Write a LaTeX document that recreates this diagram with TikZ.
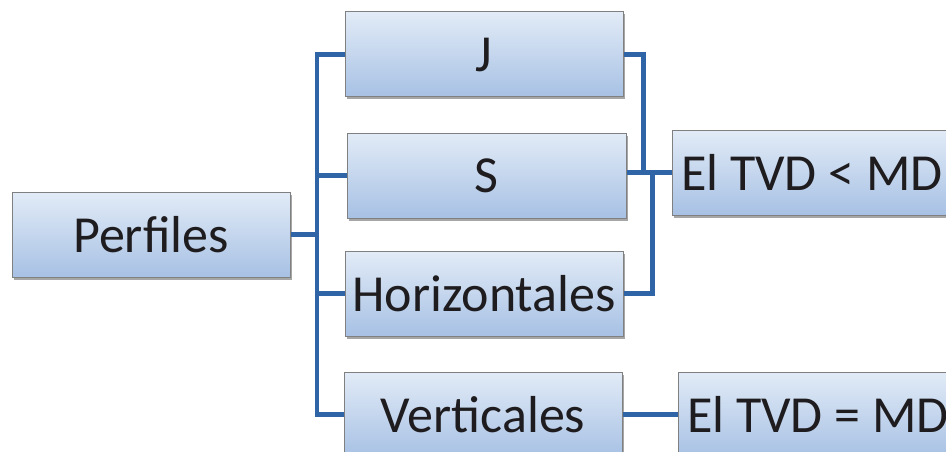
\documentclass[tikz,border=0pt]{standalone}
\usepackage{fontspec}
\setmainfont{Carlito}
\usetikzlibrary{shadows}
\definecolor{topc}{RGB}{226,235,247}
\definecolor{botc}{RGB}{167,193,228}
\definecolor{edgec}{RGB}{128,128,128}
\definecolor{linec}{RGB}{47,100,166}
\definecolor{txtc}{RGB}{30,28,30}
\tikzset{
  boxn/.style={draw=edgec, line width=1pt, top color=topc, bottom color=botc,
    minimum height=85pt, inner sep=0pt, text=txtc,
    font=\fontsize{52}{60}\selectfont,
    drop shadow={shadow xshift=2pt, shadow yshift=-2.5pt, fill=black, opacity=0.35}},
  conn/.style={draw=linec, line width=4.5pt}
}
\begin{document}
\begin{tikzpicture}[x=1pt,y=-1pt]
\useasboundingbox (0,0) rectangle (946,452);
\node[boxn, minimum width=278pt] (P) at (151,234.5) {Perfiles};
\node[boxn, minimum width=278pt] (J) at (484,54.5) {J};
\node[boxn, minimum width=279pt] (S) at (486.5,175.5) {S};
\node[boxn, minimum width=278pt] (H) at (484,293.5) {Horizontales};
\node[boxn, minimum width=278pt] (V) at (483,414.5) {Verticales};
\node[boxn, minimum width=280pt] (T1) at (812,172.5) {El TVD < MD};
\node[boxn, minimum width=280pt] (T2) at (818,414.5) {El TVD = MD};
\coordinate (sp) at (317,234.5);
\draw[conn] (P.east) -- (sp);
\draw[conn] (sp) |- (J.west);
\draw[conn] (sp) |- (S.west);
\draw[conn] (sp) |- (H.west);
\draw[conn] (sp) |- (V.west);
\draw[conn] (J.east) -- ++(20,0) |- (T1.west);
\draw[conn] (S.east |- T1.west) -- (T1.west);
\draw[conn] (H.east) -- ++(29,0) |- (T1.west);
\draw[conn] (V.east) -- (T2.west);
\end{tikzpicture}
\end{document}
